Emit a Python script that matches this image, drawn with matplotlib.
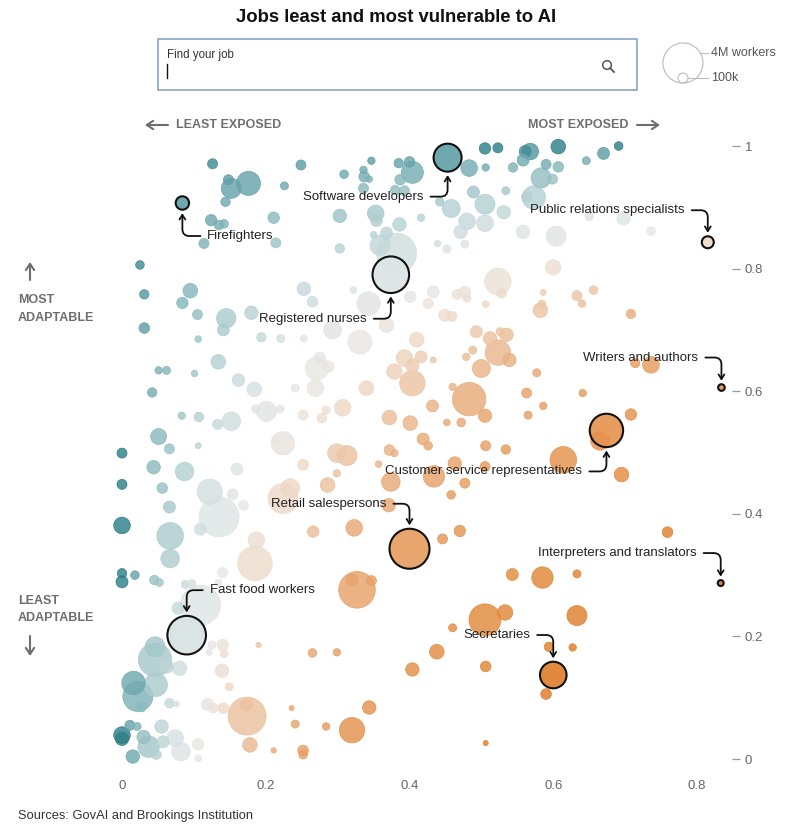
import numpy as np
import matplotlib
matplotlib.use("Agg")
import matplotlib.pyplot as plt
from matplotlib.colors import LinearSegmentedColormap
from matplotlib.patches import Circle, Rectangle

# AI exposure (x), adaptability (y), workers in thousands
exposure = [
    0.126, 0.249, 0.148, 0.152, 0.176, 0.226, 0.144, 0.211, 0.124, 0.135,
    0.142, 0.114, 0.214, 0.025, 0.095, 0.031, 0.084, 0.253, 0.265, 0.105,
    0.145, 0.141, 0.180, 0.031, 0.106, 0.194, 0.221, 0.253,
    0.505, 0.523, 0.561, 0.347, 0.385, 0.400, 0.404, 0.309, 0.336, 0.337,
    0.344, 0.387, 0.483, 0.506, 0.544, 0.336, 0.380, 0.393, 0.489, 0.534,
    0.563, 0.442, 0.458, 0.505, 0.531, 0.303, 0.353, 0.354, 0.386, 0.416,
    0.480, 0.505, 0.471, 0.558, 0.368, 0.350, 0.359, 0.382, 0.303, 0.439,
    0.452, 0.477, 0.322, 0.343, 0.401, 0.433, 0.426, 0.466, 0.477, 0.480,
    0.523, 0.528, 0.506, 0.449, 0.459, 0.368, 0.410, 0.331, 0.493, 0.512,
    0.535, 0.526,
    0.568, 0.558, 0.607, 0.670, 0.691, 0.646, 0.590, 0.607, 0.583, 0.599,
    0.573, 0.650, 0.698, 0.604, 0.736, 0.600, 0.586, 0.582, 0.584, 0.633,
    0.640, 0.656, 0.708,
    0.134, 0.051, 0.062, 0.101, 0.162, 0.184, 0.241, 0.042, 0.083, 0.107,
    0.133, 0.152, 0.201, 0.186, 0.220, 0.252, 0.051, 0.066, 0.106, 0.224,
    0.213, 0.000, 0.044, 0.087, 0.160, 0.252, 0.000, 0.056, 0.122, 0.154,
    0.234, 0.224, 0.066, 0.135, 0.169, 0.000, 0.067, 0.109, 0.187, 0.266,
    0.293, 0.523, 0.539, 0.488, 0.479, 0.500, 0.393, 0.416, 0.433, 0.404,
    0.379, 0.404, 0.271, 0.275, 0.287, 0.269, 0.340, 0.460, 0.483, 0.563,
    0.307, 0.284, 0.278, 0.432, 0.372, 0.401, 0.452, 0.472, 0.505, 0.565,
    0.419, 0.426, 0.506, 0.534, 0.299, 0.313, 0.372, 0.379, 0.357, 0.299,
    0.374, 0.463, 0.505, 0.434, 0.477, 0.458, 0.286, 0.371, 0.323, 0.446,
    0.470,
    0.714, 0.736, 0.577, 0.641, 0.586, 0.708, 0.665, 0.614, 0.695, 0.759,
    0.067, 0.185, 0.000, 0.000, 0.018, 0.045, 0.052, 0.140, 0.134, 0.088,
    0.097, 0.109, 0.078, 0.125, 0.140, 0.142, 0.121, 0.190, 0.265, 0.046,
    0.046, 0.062, 0.080, 0.139, 0.149, 0.016, 0.022, 0.047, 0.027, 0.066,
    0.076, 0.119, 0.127, 0.141, 0.174, 0.173, 0.236, 0.241, 0.178, 0.211,
    0.252, 0.252, 0.106, 0.106, 0.000, 0.000, 0.011, 0.021, 0.030, 0.037,
    0.055, 0.015, 0.057, 0.074, 0.082, 0.048,
    0.327, 0.320, 0.347, 0.543, 0.505, 0.533, 0.460, 0.438, 0.404, 0.506,
    0.299, 0.344, 0.320, 0.284, 0.506,
    0.585, 0.633, 0.633, 0.594, 0.627, 0.590,
]
adaptability = [
    0.971, 0.969, 0.945, 0.931, 0.939, 0.935, 0.909, 0.883, 0.879, 0.871,
    0.873, 0.841, 0.842, 0.806, 0.764, 0.758, 0.744, 0.767, 0.746, 0.725,
    0.719, 0.700, 0.728, 0.703, 0.685, 0.688, 0.686, 0.686,
    0.996, 0.997, 0.991, 0.976, 0.972, 0.974, 0.957, 0.954, 0.961, 0.950,
    0.946, 0.945, 0.964, 0.965, 0.965, 0.931, 0.928, 0.927, 0.925, 0.927,
    0.917, 0.909, 0.898, 0.905, 0.892, 0.886, 0.890, 0.878, 0.872, 0.883,
    0.877, 0.874, 0.860, 0.860, 0.858, 0.855, 0.838, 0.825, 0.833, 0.841,
    0.832, 0.840, 0.765, 0.743, 0.754, 0.762, 0.743, 0.758, 0.762, 0.752,
    0.779, 0.760, 0.742, 0.724, 0.722, 0.708, 0.684, 0.680, 0.697, 0.686,
    0.692, 0.697,
    0.991, 0.977, 0.999, 0.988, 1.000, 0.976, 0.970, 0.966, 0.948, 0.946,
    0.916, 0.885, 0.882, 0.853, 0.861, 0.802, 0.761, 0.732, 0.742, 0.756,
    0.743, 0.765, 0.726,
    0.648, 0.634, 0.634, 0.629, 0.618, 0.603, 0.605, 0.598, 0.560, 0.558,
    0.546, 0.551, 0.567, 0.571, 0.571, 0.561, 0.526, 0.506, 0.511, 0.515,
    0.518, 0.499, 0.476, 0.469, 0.473, 0.480, 0.448, 0.442, 0.436, 0.432,
    0.442, 0.425, 0.411, 0.395, 0.414, 0.381, 0.364, 0.375, 0.357, 0.371,
    0.700, 0.663, 0.651, 0.667, 0.656, 0.637, 0.654, 0.656, 0.651, 0.642,
    0.632, 0.613, 0.637, 0.654, 0.640, 0.605, 0.605, 0.607, 0.587, 0.597,
    0.573, 0.569, 0.556, 0.576, 0.557, 0.548, 0.549, 0.549, 0.560, 0.561,
    0.522, 0.511, 0.511, 0.505, 0.499, 0.495, 0.504, 0.499, 0.481, 0.466,
    0.452, 0.482, 0.477, 0.461, 0.450, 0.431, 0.447, 0.414, 0.377, 0.359,
    0.372,
    0.646, 0.643, 0.630, 0.597, 0.576, 0.562, 0.519, 0.488, 0.464, 0.370,
    0.327, 0.319, 0.303, 0.289, 0.300, 0.292, 0.288, 0.304, 0.288, 0.285,
    0.286, 0.251, 0.246, 0.186, 0.186, 0.172, 0.174, 0.186, 0.173, 0.183,
    0.162, 0.151, 0.148, 0.144, 0.118, 0.124, 0.102, 0.121, 0.085, 0.091,
    0.090, 0.089, 0.083, 0.083, 0.070, 0.088, 0.083, 0.057, 0.023, 0.014,
    0.014, 0.007, 0.024, 0.001, 0.039, 0.033, 0.055, 0.053, 0.036, 0.020,
    0.053, 0.004, 0.028, 0.034, 0.012, 0.007,
    0.276, 0.292, 0.291, 0.301, 0.227, 0.239, 0.214, 0.175, 0.146, 0.151,
    0.174, 0.084, 0.047, 0.053, 0.026,
    0.296, 0.302, 0.234, 0.183, 0.182, 0.106,
]
workers = [
    100, 100, 100, 769, 1213, 42, 80, 156, 156, 80,
    57, 100, 100, 57, 330, 80, 156, 257, 122, 100,
    700, 183, 257, 122, 16, 80, 42, 16,
    156, 100, 183, 29, 80, 122, 978, 57, 29, 122,
    16, 122, 471, 29, 80, 100, 80, 100, 183, 42,
    100, 57, 585, 769, 257, 257, 471, 156, 257, 29,
    471, 471, 257, 257, 183, 16, 769, 4000, 80, 16,
    42, 42, 16, 1139, 156, 183, 100, 100, 156, 42,
    1555, 100, 16, 183, 100, 330, 330, 1213, 183, 257,
    257, 42,
    471, 183, 330, 183, 57, 42, 100, 122, 769, 100,
    1139, 42, 257, 769, 57, 383, 8, 330, 42, 100,
    29, 57, 80,
    330, 29, 42, 16, 214, 330, 42, 80, 29, 80,
    100, 637, 769, 42, 42, 100, 426, 100, 8, 1139,
    42, 100, 257, 637, 183, 122, 100, 122, 1392, 122,
    637, 2067, 183, 3997, 100, 471, 1555, 183, 471, 156,
    585, 1392, 257, 42, 29, 585, 471, 183, 8, 257,
    383, 1392, 1139, 183, 156, 471, 330, 29, 2650, 100,
    471, 42, 80, 183, 330, 330, 16, 57, 257, 42,
    183, 57, 100, 80, 637, 769, 122, 29, 16, 29,
    637, 257, 100, 913, 100, 57, 330, 257, 471, 100,
    156,
    80, 471, 42, 29, 29, 156, 637, 1555, 330, 122,
    637, 2875, 80, 183, 57, 80, 42, 100, 16, 42,
    42, 3997, 183, 42, 156, 42, 16, 3, 57, 769,
    2650, 257, 330, 257, 42, 1139, 2067, 1139, 100, 80,
    3, 183, 80, 122, 3557, 183, 2, 42, 330, 3,
    122, 57, 156, 16, 471, 257, 100, 42, 257, 913,
    257, 257, 183, 471, 637, 80,
    3270, 183, 100, 183, 2400, 383, 42, 330, 257, 122,
    29, 257, 1392, 29, 2,
    913, 42, 769, 80, 29, 122,
]

# highlighted occupations
label_jobs = ["Firefighters", "Software developers", "Public relations specialists",
              "Registered nurses", "Writers and authors", "Customer service representatives",
              "Retail salespersons", "Interpreters and translators", "Fast food workers",
              "Secretaries"]
label_x = [0.084, 0.453, 0.815, 0.374, 0.834, 0.674, 0.400, 0.833, 0.090, 0.600]
label_y = [0.907, 0.981, 0.843, 0.790, 0.606, 0.536, 0.343, 0.287, 0.202, 0.137]
label_workers = [257, 1757, 183, 3270, 16, 2650, 3997, 8, 3686, 1555]

x_ticks = [0, 0.2, 0.4, 0.6, 0.8]
x_tick_labels = ["0", "0.2", "0.4", "0.6", "0.8"]
y_ticks = [0, 0.2, 0.4, 0.6, 0.8, 1]
y_tick_labels = ["0", "0.2", "0.4", "0.6", "0.8", "1"]
legend_workers = [4000, 100]
legend_labels = ["4M workers", "100k"]

W, H, DPI = 790, 835, 100
NARROW = ["Liberation Sans Narrow", "Liberation Sans", "DejaVu Sans"]
SANS = ["Liberation Sans", "DejaVu Sans"]


def radius_px(w):
    return 2.18 + 0.282 * np.sqrt(np.asarray(w, dtype=float))


def size_pt2(w):
    return (2 * radius_px(w) * 72 / DPI) ** 2


nodes = [(0.000, "#2f8089"), (0.006, "#5a9ca3"), (0.02, "#86b7bb"),
         (0.045, "#b4d0d2"), (0.075, "#dce4e5"), (0.10, "#e9e7e4"),
         (0.125, "#eedccd"), (0.15, "#ecc7a8"), (0.20, "#e8aa78"),
         (0.30, "#e5934f"), (0.45, "#e08431"), (0.65, "#d96f1c")]
vmax = 0.65
cmap = LinearSegmentedColormap.from_list("expo", [(v / vmax, c) for v, c in nodes])


def colours(x, y):
    v = np.asarray(x) * (1 - np.asarray(y))
    return cmap(np.clip(v / vmax, 0, 1))


fig = plt.figure(figsize=(W / DPI, H / DPI), dpi=DPI)
fig.patch.set_facecolor("white")

left_px, right_px, top_px, bottom_px = 105, 732, 140, 770
ax = fig.add_axes([left_px / W, 1 - bottom_px / H, (right_px - left_px) / W,
                   (bottom_px - top_px) / H])
ax.set_xlim((left_px - 122) / 718.75, (right_px - 122) / 718.75)
ax.set_ylim((759 - bottom_px) / 613, (759 - top_px) / 613)
for s in ax.spines.values():
    s.set_visible(False)

# all jobs, biggest first so small ones sit on top
x = np.array(exposure)
y = np.array(adaptability)
w = np.array(workers)
order = np.argsort(-w)
fc = colours(x[order], y[order])
fc_alpha = fc.copy()
fc_alpha[:, 3] = 0.82
ax.scatter(x[order], y[order], s=size_pt2(w[order]), c=fc_alpha, edgecolors=fc,
           linewidths=0.5, zorder=2, clip_on=False)

# highlighted jobs
lx, ly, lw_ = np.array(label_x), np.array(label_y), np.array(label_workers)
lc = colours(lx, ly)
lc[:, 3] = 0.9
ax.scatter(lx, ly, s=size_pt2(lw_), c=lc, edgecolors="#111111", linewidths=1.5,
           zorder=4, clip_on=False)

# label offsets in pixels (dx, dy) and which side the text sits on
offsets = {
    "Firefighters": (25, -33, "left"),
    "Software developers": (-24, -39, "right"),
    "Public relations specialists": (-23, 32, "right"),
    "Registered nurses": (-24, -44, "right"),
    "Writers and authors": (-23, 30, "right"),
    "Customer service representatives": (-24, -41, "right"),
    "Retail salespersons": (-23, 45, "right"),
    "Interpreters and translators": (-24, 30, "right"),
    "Fast food workers": (23, 45, "left"),
    "Secretaries": (-23, 40, "right"),
}
for job, px, py, pw in zip(label_jobs, label_x, label_y, label_workers):
    dx, dy, side = offsets[job]
    r_pt = float(radius_px(pw)) * 72 / DPI
    ax.annotate(job, xy=(px, py), xytext=(dx, dy), textcoords="offset pixels",
                ha=side, va="center", fontsize=9.5, family=SANS, color="#222222",
                zorder=5, annotation_clip=False,
                arrowprops=dict(arrowstyle="->,head_length=0.35,head_width=0.22",
                                connectionstyle="angle,angleA=0,angleB=90,rad=7",
                                relpos=(0 if side == "left" else 1, 0.5),
                                shrinkA=3, shrinkB=r_pt + 2.5, lw=1.3, color="#111111"))

ax.set_xticks(x_ticks)
ax.set_xticklabels(x_tick_labels)
ax.set_yticks(y_ticks)
ax.set_yticklabels(y_tick_labels)
ax.yaxis.tick_right()
ax.tick_params(axis="x", length=0, pad=7, labelsize=9.5, labelcolor="#666666")
ax.tick_params(axis="y", length=6, width=0.9, color="#999999", pad=3,
               labelsize=9.5, labelcolor="#666666")
for t in ax.get_xticklabels() + ax.get_yticklabels():
    t.set_family(SANS)

# overlay in pixel coordinates for the page furniture
ov = fig.add_axes([0, 0, 1, 1], zorder=-1)
ov.set_xlim(0, W)
ov.set_ylim(H, 0)
ov.axis("off")

ov.text(396, 18, "Jobs least and most vulnerable to AI", ha="center", va="center",
        fontsize=13.3, fontweight="bold", family=NARROW, color="#111111")

# search box
ov.add_patch(Rectangle((158, 39), 479, 51, fill=False, ec="#7d9cc4", lw=1.1))
ov.text(167, 55, "Find your job", ha="left", va="center", fontsize=8.3,
        family=NARROW, color="#333333")
ov.plot([167, 167], [64, 78], color="#111111", lw=1)
ov.add_patch(Circle((607, 65), 4.3, fill=False, ec="#555555", lw=1.1))
ov.plot([610.2, 614], [68.2, 72], color="#555555", lw=1.3)

# size legend
r_big, r_small = radius_px(legend_workers)
base = 83
for r, lab, ty in zip([r_big, r_small], legend_labels, [53, 78]):
    ov.add_patch(Circle((683, base - r), r, fill=False, ec="#bbbbbb", lw=0.8))
    xe = 683 + np.sqrt(max(r ** 2 - (ty - (base - r)) ** 2, 0))
    ov.plot([xe, 708], [ty, ty], color="#bbbbbb", lw=0.8)
    ov.text(711, ty, lab, ha="left", va="center", fontsize=9, family=NARROW,
            color="#555555")

# direction labels
grey = "#6e6e6e"
arrow = dict(arrowstyle="->,head_length=0.45,head_width=0.3", color=grey, lw=1.5,
             shrinkA=0, shrinkB=0)
ov.annotate("", xy=(145, 125), xytext=(168, 125), arrowprops=arrow)
ov.text(176, 125, "LEAST EXPOSED", ha="left", va="center", fontsize=9,
        fontweight="bold", family=NARROW, color=grey)
ov.text(628, 125, "MOST EXPOSED", ha="right", va="center", fontsize=9,
        fontweight="bold", family=NARROW, color=grey)
ov.annotate("", xy=(660, 125), xytext=(637, 125), arrowprops=arrow)

ov.annotate("", xy=(30, 262), xytext=(30, 280), arrowprops=arrow)
for txt, ty in [("MOST", 300), ("ADAPTABLE", 318), ("LEAST", 601), ("ADAPTABLE", 618)]:
    ov.text(18, ty, txt, ha="left", va="center", fontsize=9, fontweight="bold",
            family=NARROW, color=grey)
ov.annotate("", xy=(30, 656), xytext=(30, 636), arrowprops=arrow)

ov.text(18, 816, "Sources: GovAI and Brookings Institution", ha="left", va="center",
        fontsize=9.3, family=SANS, color="#333333")

fig.savefig("out.png", dpi=DPI, facecolor="white")
